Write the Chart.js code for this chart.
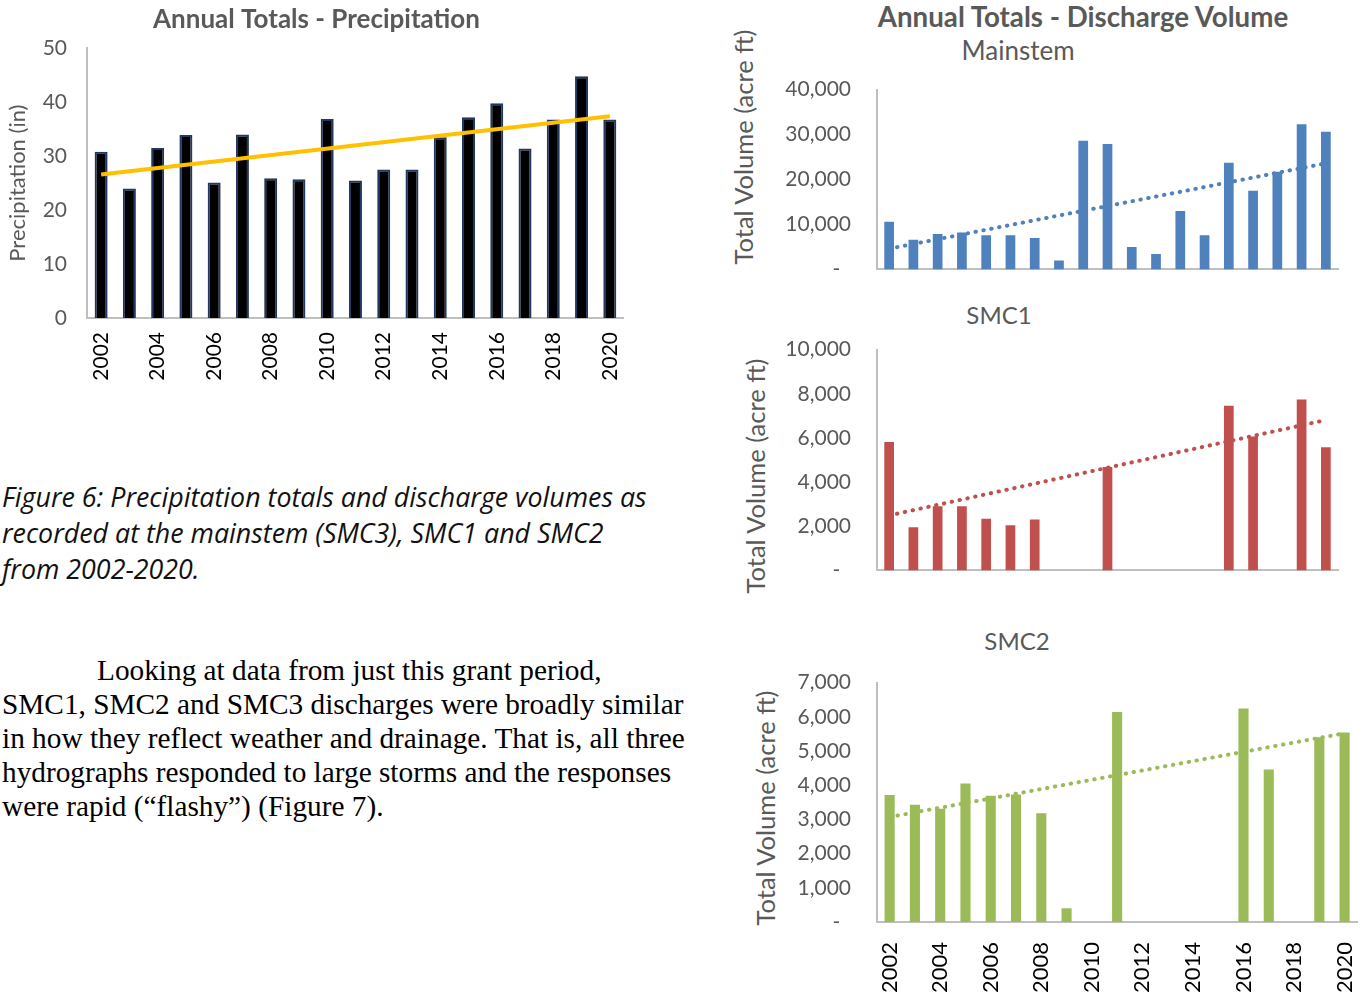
<!DOCTYPE html>
<html>
<head>
<meta charset="utf-8">
<title>Annual Totals</title>
<script src="https://cdn.jsdelivr.net/npm/chart.js@4.4.0/dist/chart.umd.min.js"></script>
<style>
  body { margin: 0; background: #fff; font-family: Lato, sans-serif; }
  #page { position: relative; width: 1368px; height: 999px; overflow: hidden; }
  .box { position: absolute; line-height: 0; }
  .lbl { position: absolute; transform: translate(-50%, -50%); white-space: nowrap; color: #595959; }
  .ytitle { position: absolute; transform: translate(-50%, -50%) rotate(-90deg); white-space: nowrap; color: #595959; font-size: 25.5px; }
  #caption { position: absolute; left: 2px; top: 479px; font-family: "Open Sans", sans-serif; font-style: italic; font-size: 26.8px; line-height: 36px; color: #111; white-space: nowrap; }
  #para { position: absolute; left: 2px; top: 653px; font-family: "Liberation Serif", serif; font-size: 29.3px; line-height: 34px; color: #000; white-space: nowrap; }
</style>
</head>
<body>
<div id="page">
  <div class="box" style="left:-16px;top:0;"><canvas id="precipChart" width="665" height="400"></canvas></div>

  <div id="caption">Figure 6: Precipitation totals and discharge volumes as<br>recorded at the mainstem (SMC3), SMC1 and SMC2<br>from 2002-2020.</div>
  <div id="para"><span style="padding-left:95px"></span>Looking at data from just this grant period,<br>SMC1, SMC2 and SMC3 discharges were broadly similar<br>in how they reflect weather and drainage. That is, all three<br>hydrographs responded to large storms and the responses<br>were rapid (“flashy”) (Figure 7).</div>

  <div class="lbl" style="left:1083px;top:16px;font-size:27.7px;font-weight:bold;">Annual Totals - Discharge Volume</div>
  <div class="lbl" style="left:1018px;top:50px;font-size:26px;">Mainstem</div>
  <div class="lbl" style="left:999px;top:314px;font-size:24px;">SMC1</div>
  <div class="lbl" style="left:1017px;top:640px;font-size:24px;">SMC2</div>

  <div class="ytitle" style="left:743px;top:147px;">Total Volume (acre ft)</div>
  <div class="ytitle" style="left:755px;top:476px;">Total Volume (acre ft)</div>
  <div class="ytitle" style="left:765px;top:808px;">Total Volume (acre ft)</div>

  <div class="box" style="left:725px;top:51px;"><canvas id="mainstemChart" width="640" height="257"></canvas></div>
  <div class="box" style="left:725px;top:311px;"><canvas id="smc1Chart" width="640" height="298"></canvas></div>
  <div class="box" style="left:725px;top:644px;"><canvas id="smc2Chart" width="666" height="355"></canvas></div>
</div>

<script>
const years = ['2002', '2003', '2004', '2005', '2006', '2007', '2008', '2009', '2010', '2011',
               '2012', '2013', '2014', '2015', '2016', '2017', '2018', '2019', '2020'];

// inches
const precipitation = [30.8, 24.0, 31.5, 33.9, 25.1, 34.0, 25.9, 25.7, 36.9, 25.5,
                       27.5, 27.5, 33.5, 37.2, 39.8, 31.4, 36.8, 44.8, 36.8];
const precipTrend = [26.6, null, null, null, null, null, null, null, null, null,
                     null, null, null, null, null, null, null, null, 37.4];

// acre ft
const mainstem = [10600, 6600, 7900, 8200, 7600, 7600, 7000, 2000, 28600, 27900,
                  5000, 3400, 13000, 7600, 23700, 17500, 21700, 32300, 30600];
const mainstemTrend = [4600, null, null, null, null, null, null, null, null, null,
                       null, null, null, null, null, null, null, null, 23600];

const smc1 = [5820, 1950, 2900, 2900, 2340, 2050, 2310, null, null, 4680,
              null, null, null, null, 7460, 6060, null, 7740, 5580];
const smc1Trend = [2490, null, null, null, null, null, null, null, null, null,
                   null, null, null, null, null, null, null, null, 6810];

const smc2 = [3710, 3430, 3310, 4050, 3690, 3730, 3180, 400, null, 6140,
              null, null, null, null, 6240, 4460, null, 5400, 5540];
const smc2Trend = [3070, null, null, null, null, null, null, null, null, null,
                   null, null, null, null, null, null, null, null, 5520];

Chart.defaults.font.family = 'Lato';
Chart.defaults.animation = false;

const axisGray = '#bfbfbf';
const textGray = '#595959';

const everyOtherYear = function (value, index) {
    return index % 2 === 0 ? this.getLabelForValue(value) : '';
};

// left: precipitation
new Chart(document.getElementById('precipChart'), {
    data: {
        labels: years,
        datasets: [
            {
                type: 'line',
                data: precipTrend,
                spanGaps: true,
                borderColor: '#ffc000',
                borderWidth: 4,
                pointRadius: 0,
                order: 0
            },
            {
                type: 'bar',
                data: precipitation,
                backgroundColor: '#000000',
                borderColor: '#1f3864',
                borderWidth: 2,
                barPercentage: 0.5,
                categoryPercentage: 0.92,
                order: 1
            }
        ]
    },
    options: {
        responsive: false,
        layout: { padding: 0 },
        plugins: {
            legend: { display: false },
            tooltip: { enabled: false },
            title: {
                display: true,
                text: 'Annual Totals - Precipitation',
                color: textGray,
                font: { size: 26, weight: 'bold' },
                padding: { top: 4, bottom: 13 }
            }
        },
        scales: {
            y: {
                min: 0,
                max: 50,
                ticks: { stepSize: 10, color: textGray, font: { size: 21 }, padding: 20 },
                grid: { display: false, drawTicks: false },
                border: { color: axisGray, width: 2 },
                title: {
                    display: true,
                    text: 'Precipitation (in)',
                    color: textGray,
                    font: { size: 22 },
                    padding: { top: 21, bottom: 0 }
                },
                afterFit: (scale) => { scale.width = 103; }
            },
            x: {
                grid: { display: false, drawTicks: false },
                border: { color: axisGray, width: 2 },
                ticks: {
                    autoSkip: false,
                    maxRotation: 90,
                    minRotation: 90,
                    color: '#000000',
                    font: { size: 21 },
                    padding: 14,
                    callback: everyOtherYear
                },
                afterFit: (scale) => { scale.height = 82; }
            }
        }
    }
});

// right: discharge volume panels
const dischargeChart = (id, values, trend, color, max, step, xHeight, showYears) => {
    new Chart(document.getElementById(id), {
        data: {
            labels: years,
            datasets: [
                {
                    type: 'line',
                    data: trend,
                    spanGaps: true,
                    borderColor: color,
                    borderWidth: 4,
                    borderDash: [0.5, 7.5],
                    borderCapStyle: 'round',
                    pointRadius: 0,
                    order: 0
                },
                {
                    type: 'bar',
                    data: values,
                    backgroundColor: color,
                    barPercentage: 0.4,
                    categoryPercentage: 1,
                    order: 1
                }
            ]
        },
        options: {
            responsive: false,
            layout: { padding: { left: 0, right: showYears ? 0 : 27, top: 29, bottom: 0 } },
            plugins: {
                legend: { display: false },
                tooltip: { enabled: false }
            },
            scales: {
                y: {
                    min: 0,
                    max: max,
                    ticks: {
                        stepSize: step,
                        color: textGray,
                        font: { size: 21 },
                        padding: 26,
                        callback: (v) => v === 0 ? '-  ' : v.toLocaleString('en-US')
                    },
                    grid: { display: false, drawTicks: false },
                    border: { color: axisGray, width: 2 },
                    afterFit: (scale) => { scale.width = 152; }
                },
                x: {
                    grid: { display: false, drawTicks: false },
                    border: { color: axisGray, width: 2 },
                    ticks: {
                        display: showYears,
                        autoSkip: false,
                        maxRotation: 90,
                        minRotation: 90,
                        color: '#000000',
                        font: { size: 22 },
                        padding: 20,
                        callback: everyOtherYear
                    },
                    afterFit: (scale) => { scale.height = xHeight; }
                }
            }
        }
    });
};

dischargeChart('mainstemChart', mainstem, mainstemTrend, '#4f81bd', 40000, 10000, 20, false);
dischargeChart('smc1Chart', smc1, smc1Trend, '#c0504d', 10000, 2000, 20, false);
dischargeChart('smc2Chart', smc2, smc2Trend, '#9bbb59', 7000, 1000, 77, true);
</script>
</body>
</html>
